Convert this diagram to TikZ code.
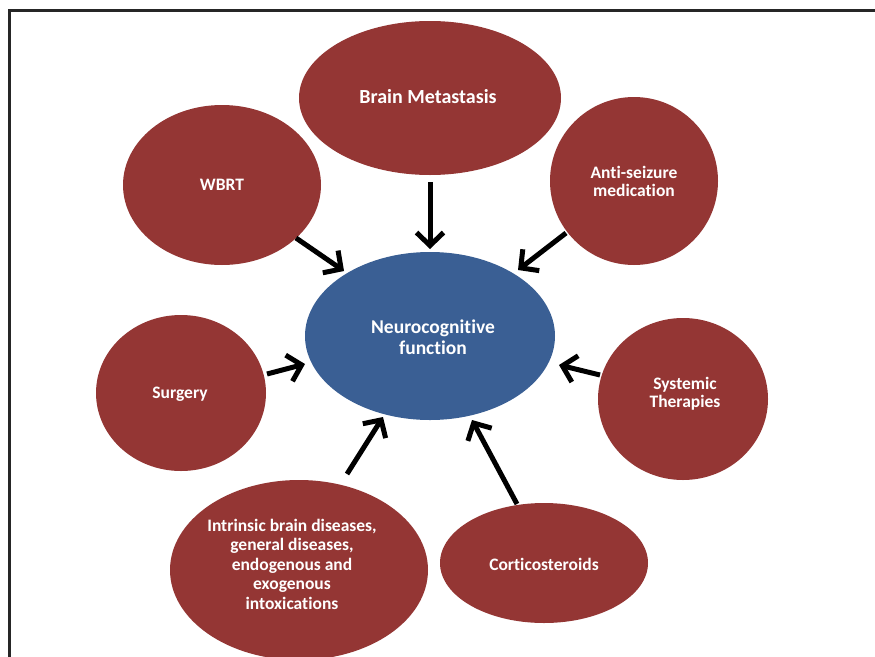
\documentclass[tikz,border=0pt]{standalone}
\usepackage{fontspec}
\setmainfont{Carlito}[Ligatures={NoCommon}]
\usetikzlibrary{arrows.meta,shapes.geometric}
\definecolor{redbub}{HTML}{943634}
\definecolor{bluebub}{HTML}{3A5F94}
\tikzset{
  bub/.style={ellipse, fill=redbub, inner sep=0pt},
  lbl/.style={text=white, font=\bfseries\fontsize{17.5}{19.5}\selectfont, align=center, inner sep=0pt},
  arr/.style={line width=5pt, black, -{Straight Barb[length=13pt,width=27pt,line width=5pt]}}
}
\begin{document}
\begin{tikzpicture}[x=1pt,y=-1pt]
\useasboundingbox (0,0) rectangle (875,656);
\clip (0,0) rectangle (875,656);
\draw[line width=3pt, black!85] (880,10) -- (9,10) -- (9,670);
% bubbles
\node[bub, minimum width=262pt, minimum height=154pt] (bm) at (430,98) {};
\node[lbl, font=\bfseries\fontsize{20}{22}\selectfont] (bmL) at (428,97) {Brain Metastasis};
\node[bub, minimum width=198pt, minimum height=160pt] (wbrt) at (222,185) {};
\node[lbl] (wbrtL) at (222,185) {WBRT};
\node[bub, minimum width=168pt, minimum height=168pt] (anti) at (634,181) {};
\node[lbl, font=\bfseries\fontsize{17.5}{18}\selectfont] (antiL) at (634,181) {Anti-seizure\\medication};
\node[bub, fill=bluebub, minimum width=250pt, minimum height=168pt] (nf) at (430,336) {};
\node[lbl, font=\bfseries\fontsize{19.5}{21}\selectfont] (nfL) at (433,337) {Neurocognitive\\function};
\node[bub, minimum width=170pt, minimum height=156pt] (surg) at (181,393) {};
\node[lbl] (surgL) at (180,394) {Surgery};
\node[bub, minimum width=170pt, minimum height=162pt] (sys) at (683,399) {};
\node[lbl, font=\bfseries\fontsize{17.5}{18}\selectfont] (sysL) at (685,394) {Systemic\\Therapies};
\node[bub, minimum width=258pt, minimum height=180pt] (intr) at (299,570) {};
\node[lbl] (intrL) at (292,564) {Intrinsic brain diseases,\\general diseases,\\endogenous and\\exogenous\\intoxications};
\node[bub, minimum width=208pt, minimum height=120pt] (cort) at (544,563) {};
\node[lbl] (cortL) at (544,564) {Corticosteroids};
% arrow end points
\coordinate (bmT) at (430,182); \coordinate (bmH) at (430,249);
\coordinate (wbT) at (296,238); \coordinate (wbH) at (344,271);
\coordinate (anT) at (566,233); \coordinate (anH) at (518,270);
\coordinate (suT) at (267,374); \coordinate (suH) at (305,364);
\coordinate (syT) at (600,375); \coordinate (syH) at (559,365);
\coordinate (inT) at (347,474); \coordinate (inH) at (383,417);
\coordinate (coT) at (517,504); \coordinate (coH) at (472,420);
\draw[arr] (bmT) -- (bmH);
\draw[arr] (wbT) -- (wbH);
\draw[arr] (anT) -- (anH);
\draw[arr] (suT) -- (suH);
\draw[arr] (syT) -- (syH);
\draw[arr] (inT) -- (inH);
\draw[arr] (coT) -- (coH);
\end{tikzpicture}
\end{document}
